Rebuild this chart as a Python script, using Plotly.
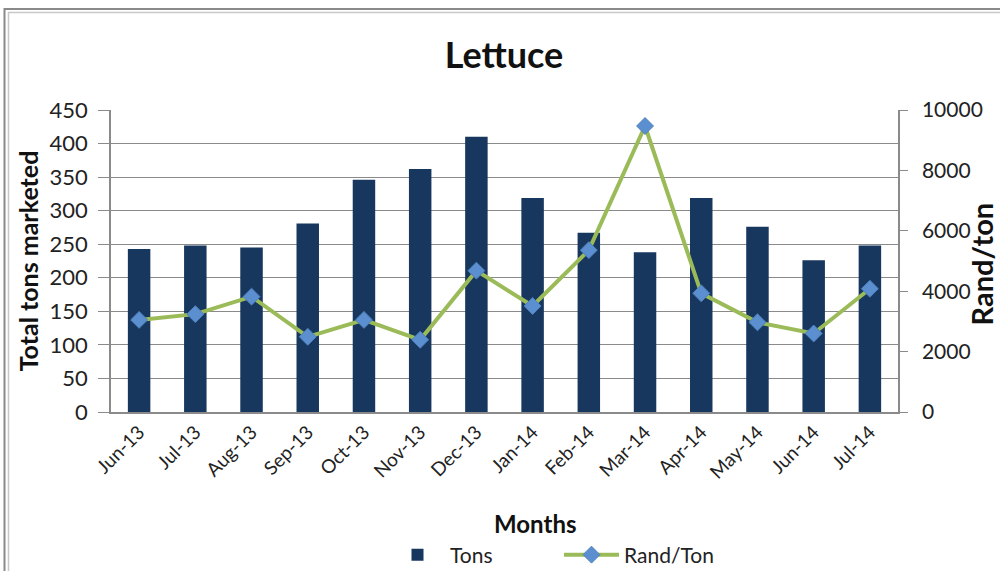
import plotly.graph_objects as go

months = ["Jun-13", "Jul-13", "Aug-13", "Sep-13", "Oct-13", "Nov-13", "Dec-13",
          "Jan-14", "Feb-14", "Mar-14", "Apr-14", "May-14", "Jun-14", "Jul-14"]
tons = [243, 248, 245, 281, 346, 362, 410, 319, 267, 238, 319, 276, 226, 248]
rand_per_ton = [3050, 3240, 3820, 2490, 3050, 2390, 4680, 3510, 5360, 9470, 3930, 2970, 2600, 4080]

FONT = "Lato"
GRID = "#8a8a8a"

fig = go.Figure()
fig.add_trace(go.Bar(
    x=months, y=tons, name="Tons",
    marker=dict(color="#17375E", line=dict(width=0)),
    width=0.4,
))
fig.add_trace(go.Scatter(
    x=months, y=rand_per_ton, name="Rand/Ton", yaxis="y2",
    mode="lines+markers",
    line=dict(color="#9BBB59", width=4),
    marker=dict(symbol="diamond", size=13, color="#5B8FCF",
                line=dict(color="#4F81BD", width=1)),
))

W, H = 1000, 571
L, R, T, B = 111, 102, 110, 159
pw, ph = W - L - R, H - T - B

def px(x):
    return (x - L) / pw

def py(y):
    return 1 - (y - T) / ph

shapes = [
    dict(type="rect", xref="paper", yref="paper",
         x0=px(4.5), x1=px(1010), y0=py(600), y1=py(9),
         line=dict(color="#8a8a8a", width=2), fillcolor="rgba(0,0,0,0)", layer="above"),
    dict(type="rect", xref="paper", yref="paper",
         x0=px(8.5), x1=px(1010), y0=py(600), y1=py(12.5),
         line=dict(color="#c8c8c8", width=1.5), fillcolor="rgba(0,0,0,0)", layer="above"),
]

annotations = [
    dict(text="<b>Months</b>", xref="paper", yref="paper", x=px(535), y=py(523),
         xanchor="center", yanchor="middle", showarrow=False,
         font=dict(family=FONT, size=24, color="#111111")),
    dict(text="<b>Rand/ton</b>", xref="paper", yref="paper", x=px(999), y=py(264),
         xanchor="right", yanchor="middle", showarrow=False, textangle=-90,
         borderpad=0,
         font=dict(family=FONT, size=29, color="#111111")),
]

fig.update_layout(
    width=W, height=H,
    margin=dict(l=L, r=R, t=T, b=B, pad=0, autoexpand=False),
    paper_bgcolor="white", plot_bgcolor="white",
    font=dict(family=FONT, color="#222222", size=18),
    title=dict(text="<b>Lettuce</b>", x=504 / W, xanchor="center",
               y=1 - 55 / H, yanchor="middle",
               font=dict(family=FONT, size=36, color="#111111")),
    showlegend=True,
    legend=dict(orientation="h", x=px(385), xanchor="left", y=py(555), yanchor="middle",
                font=dict(family=FONT, size=21, color="#222222"),
                bgcolor="rgba(0,0,0,0)", itemwidth=55, entrywidth=104,
                traceorder="normal"),
    annotations=annotations,
    xaxis=dict(
        type="category", tickangle=-45,
        tickfont=dict(family=FONT, size=19, color="#222222"),
        showline=True, linecolor=GRID, linewidth=1.5,
        showgrid=False, ticks="",
        range=[-0.5, 13.5], automargin=False,
    ),
    yaxis=dict(
        range=[0, 450], dtick=50, tick0=0,
        tickfont=dict(family=FONT, size=22, color="#222222"),
        showline=True, linecolor=GRID, linewidth=1.5,
        showgrid=True, gridcolor=GRID, gridwidth=1.2,
        ticks="outside", ticklen=11, tickcolor=GRID, ticklabelstandoff=6,
        title=dict(text="<b>Total tons marketed</b>",
                   font=dict(family=FONT, size=25, color="#111111"), standoff=4),
        zeroline=False, automargin=False,
    ),
    yaxis2=dict(
        range=[0, 10000], dtick=2000, tick0=0, overlaying="y", side="right",
        tickformat="d",
        tickfont=dict(family=FONT, size=21, color="#222222"),
        showline=True, linecolor=GRID, linewidth=1.5,
        showgrid=False, ticks="outside", ticklen=8, tickcolor=GRID, ticklabelstandoff=10,
        zeroline=False, automargin=False,
    ),
    shapes=shapes,
)

fig.write_html("out.html", config={"displayModeBar": False},
               post_script="document.body.style.margin='0';document.body.style.overflow='hidden';")
